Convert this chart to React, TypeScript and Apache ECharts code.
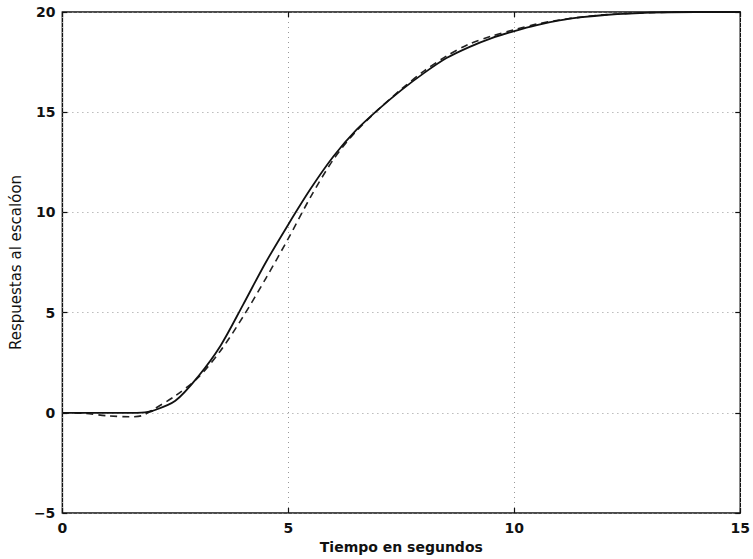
import React, { useEffect, useRef } from "react";
import * as echarts from "echarts";

const tiempo = [0, 0.5, 1, 1.5, 1.75, 2, 2.5, 3, 3.5, 4, 4.5, 5, 5.5, 6, 6.5, 7, 7.5, 8, 8.5, 9, 9.5, 10, 10.5, 11, 11.5, 12, 13, 14, 15];
const respuestaReal = [0, 0, 0, 0, 0.01, 0.1, 0.6, 1.8, 3.35, 5.4, 7.5, 9.4, 11.2, 12.8, 14.1, 15.15, 16.1, 16.95, 17.7, 18.25, 18.7, 19.05, 19.35, 19.58, 19.74, 19.85, 19.97, 20, 20];
const respuestaModelo = [0, -0.03, -0.15, -0.2, -0.15, 0.15, 0.85, 1.75, 3.1, 4.8, 6.7, 8.7, 10.8, 12.65, 14.05, 15.15, 16.15, 17.05, 17.8, 18.4, 18.8, 19.12, 19.4, 19.6, 19.75, 19.86, 19.97, 20, 20];
const xTicks = [0, 5, 10, 15];
const yTicks = [-5, 0, 5, 10, 15, 20];

const xLabel = "Tiempo en segundos";
const yLabel = "Respuestas al escalóon";

export default function App() {
  const ref = useRef<HTMLDivElement>(null);
  useEffect(() => {
    if (!ref.current) return;
    const chart = echarts.init(ref.current, undefined, { renderer: "svg" });
    const font = "DejaVu Sans";
    const tickLabel = { fontFamily: font, fontWeight: "bold" as const, fontSize: 14, color: "#111" };
    const tickStyle = { show: true, inside: true, length: 5, lineStyle: { color: "#111", width: 1.2 } };
    const mirrorAxis = {
      type: "value" as const,
      axisLine: { show: false, onZero: false },
      axisTick: tickStyle,
      axisLabel: { show: false },
      splitLine: { show: false },
    };
    chart.setOption({
      animation: false,
      backgroundColor: "#fff",
      grid: {
        left: 62,
        right: 10,
        top: 12,
        bottom: 46,
        show: true,
        borderColor: "#111",
        borderWidth: 1.5,
        backgroundColor: "transparent",
      },
      xAxis: [
        {
          type: "value",
          min: xTicks[0],
          max: xTicks[xTicks.length - 1],
          interval: 5,
          name: xLabel,
          nameLocation: "middle",
          nameGap: 25,
          nameTextStyle: { fontFamily: font, fontWeight: "bold", fontSize: 14, color: "#111" },
          axisLine: { show: false, onZero: false },
          axisTick: tickStyle,
          axisLabel: { ...tickLabel, margin: 8 },
          splitLine: { show: true, lineStyle: { type: [1, 4], color: "#999", width: 1 } },
        },
        {
          ...mirrorAxis,
          position: "top",
          min: xTicks[0],
          max: xTicks[xTicks.length - 1],
          interval: 5,
        },
      ],
      yAxis: [
        {
          type: "value",
          min: yTicks[0],
          max: yTicks[yTicks.length - 1],
          interval: 5,
          name: yLabel,
          nameLocation: "middle",
          nameGap: 30,
          nameTextStyle: { fontFamily: font, fontWeight: "normal", fontSize: 15, color: "#111" },
          axisLine: { show: false, onZero: false },
          axisTick: tickStyle,
          axisLabel: {
            ...tickLabel,
            margin: 7,
            formatter: (v: number) => (v < 0 ? "\u2212" + Math.abs(v) : String(v)),
          },
          splitLine: { show: true, lineStyle: { type: [1, 4], color: "#999", width: 1 } },
        },
        {
          ...mirrorAxis,
          position: "right",
          min: yTicks[0],
          max: yTicks[yTicks.length - 1],
          interval: 5,
        },
      ],
      series: [
        {
          type: "line",
          data: tiempo.map((t, i) => [t, respuestaReal[i]]),
          showSymbol: false,
          smooth: 0.3,
          lineStyle: { color: "#111", width: 1.8, type: "solid" },
          z: 3,
        },
        {
          type: "line",
          data: tiempo.map((t, i) => [t, respuestaModelo[i]]),
          showSymbol: false,
          smooth: 0.3,
          lineStyle: { color: "#222", width: 1.6, type: [7, 5] },
          z: 2,
        },
      ],
    });
    return () => chart.dispose();
  }, []);
  return (
    <div
      ref={ref}
      style={{ position: "fixed", left: 0, top: 0, width: 753, height: 559, background: "#fff" }}
    />
  );
}
